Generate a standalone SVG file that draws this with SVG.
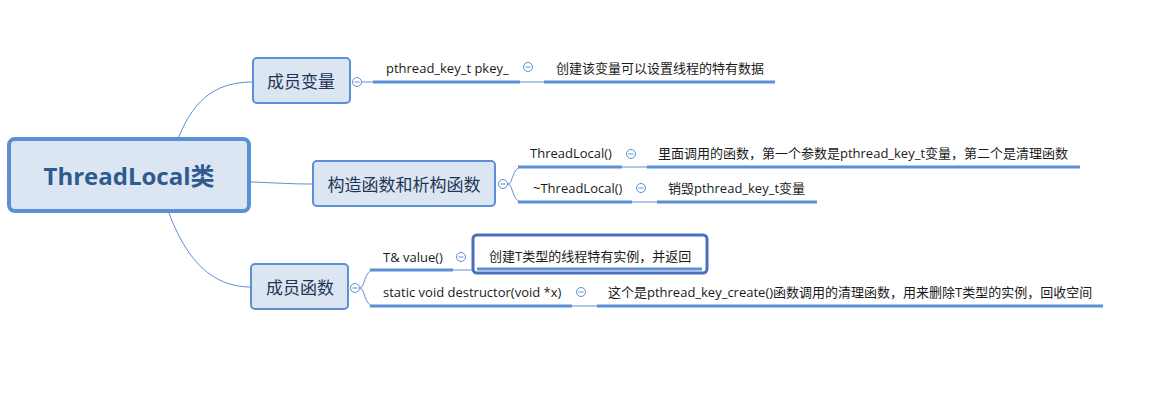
<svg xmlns="http://www.w3.org/2000/svg" width="1158" height="404" viewBox="0 0 1158 404">
<style>
.node{fill:#dce6f2;stroke:#5b8fd6;stroke-width:2}
.root{fill:#dce6f2;stroke:#5b8fd6;stroke-width:4}
.rt{font-family:"Open Sans","Noto Sans CJK SC",sans-serif;font-size:24px;font-weight:bold;fill:#2e5b8f;text-anchor:middle}
.nt{font-family:"Open Sans","Noto Sans CJK SC",sans-serif;font-size:17px;fill:#1f3556;text-anchor:middle}
.lt{font-family:"Open Sans","Noto Sans CJK SC",sans-serif;font-size:13px;fill:#1a1a1a}
.thin{fill:none;stroke:#5b8fd6;stroke-width:1}
.thick{fill:none;stroke:#5b8fd6;stroke-width:3}
.mc{fill:#ffffff;stroke:#5b8fd6;stroke-width:1}
.ml{stroke:#5b8fd6;stroke-width:1}
.hl{fill:#fff;stroke:#4a6fbe;stroke-width:3}
</style>
<defs>
<g id="minus"><circle class="mc" cx="0" cy="0" r="4.5"/><line class="ml" x1="-2.5" y1="0" x2="2.5" y2="0"/></g>
</defs>
<g id="connectors">
<path class="thin" d="M178,139 C195,95 220,82 253,82"/>
<path class="thin" d="M251,182 C280,183 290,184 313,184"/>
<path class="thin" d="M169,213 C190,270 220,287 251,287"/>
<path class="thin" d="M361,82 L373,82"/>
<path class="thin" d="M508,184 C513,184 512,167 522,167 M508,184 C513,184 512,202 522,202"/>
<path class="thin" d="M360,288 C365,288 364,270 374,270 M360,288 C365,288 364,306 374,306"/>
<path class="thin" d="M520,82 L544,82 M622,167 L647,167 M632,202 L657,202 M453,270 L476,270 M572,306 L597,306"/>
</g>
<g id="root">
<rect class="root" x="9" y="139" width="240" height="72" rx="6"/>
<text class="rt" x="129" y="185">ThreadLocal类</text>
</g>
<g id="n-vars">
<rect class="node" x="253" y="58" width="97" height="45" rx="4"/>
<text class="nt" x="301" y="88">成员变量</text>
<use href="#minus" x="357" y="82"/>
</g>
<g id="n-ctor">
<rect class="node" x="313" y="161" width="182" height="45" rx="4"/>
<text class="nt" x="404" y="191">构造函数和析构函数</text>
<use href="#minus" x="503" y="184"/>
</g>
<g id="n-funcs">
<rect class="node" x="251" y="264" width="97" height="45" rx="4"/>
<text class="nt" x="300" y="294">成员函数</text>
<use href="#minus" x="355" y="288"/>
</g>
<g id="l-pkey">
<text class="lt" x="386" y="73">pthread_key_t pkey_</text>
<path class="thick" d="M373,82 L520,82"/>
<use href="#minus" x="528" y="67"/>
</g>
<g id="l-pkey-desc">
<text class="lt" x="556" y="73">创建该变量可以设置线程的特有数据</text>
<path class="thick" d="M544,82 L775,82"/>
</g>
<g id="l-ctor">
<text class="lt" x="530" y="158">ThreadLocal()</text>
<path class="thick" d="M518,167 L622,167"/>
<use href="#minus" x="631" y="154"/>
</g>
<g id="l-ctor-desc">
<text class="lt" x="658" y="158">里面调用的函数，第一个参数是pthread_key_t变量，第二个是清理函数</text>
<path class="thick" d="M647,167 L1080,167"/>
</g>
<g id="l-dtor">
<text class="lt" x="533" y="193">~ThreadLocal()</text>
<path class="thick" d="M518,202 L632,202"/>
<use href="#minus" x="641" y="188"/>
</g>
<g id="l-dtor-desc">
<text class="lt" x="668" y="193">销毁pthread_key_t变量</text>
<path class="thick" d="M657,202 L817,202"/>
</g>
<g id="l-value">
<text class="lt" x="383" y="262">T&amp; value()</text>
<path class="thick" d="M370,270 L453,270"/>
<use href="#minus" x="461" y="257"/>
</g>
<g id="l-value-desc">
<rect class="hl" x="473" y="235" width="234" height="38" rx="4"/>
<path class="thick" d="M477,269 L702,269"/>
<text class="lt" x="489" y="261">创建T类型的线程特有实例，并返回</text>
</g>
<g id="l-destructor">
<text class="lt" x="383" y="297">static void destructor(void *x)</text>
<path class="thick" d="M370,306 L572,306"/>
<use href="#minus" x="581" y="292"/>
</g>
<g id="l-destructor-desc">
<text class="lt" x="608" y="297">这个是pthread_key_create()函数调用的清理函数，用来删除T类型的实例，回收空间</text>
<path class="thick" d="M597,306 L1103,306"/>
</g>
</svg>
